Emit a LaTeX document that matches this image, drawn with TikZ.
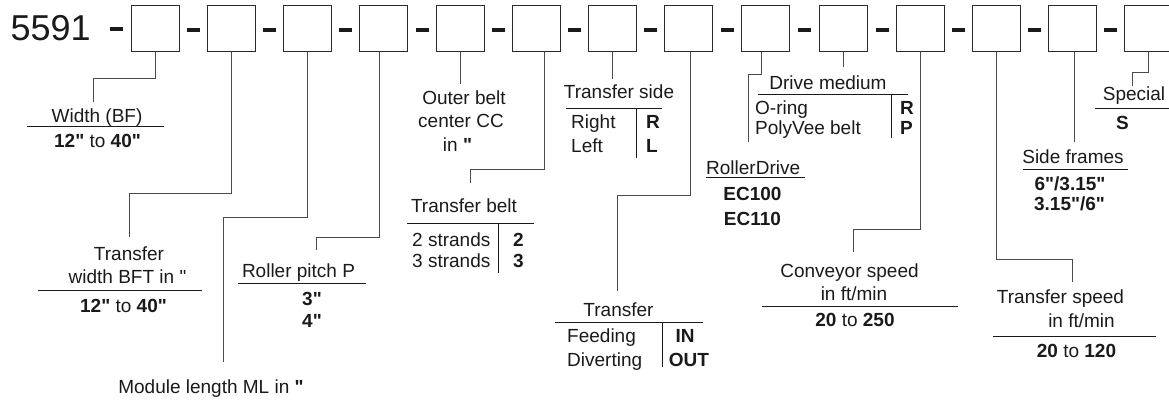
\documentclass[tikz,border=0pt]{standalone}
\usepackage{fontspec}
\newfontfamily\mainf{Liberation Sans}
\usetikzlibrary{calc}
\definecolor{txt}{HTML}{1A1A1A}
\definecolor{lc}{HTML}{4A4A4A}
\definecolor{bc}{HTML}{2A2A2A}
\begin{document}
\begin{tikzpicture}[x=1pt,y=-1pt,
  lbl/.style={font=\mainf\fontsize{19}{22}\selectfont, inner sep=0pt, anchor=base, text=txt},
  lblw/.style={lbl, anchor=base west},
  big/.style={font=\mainf\fontsize{36}{40}\selectfont, inner sep=0pt, anchor=base west, text=txt},
  conn/.style={draw=lc, line width=1pt},
  rulel/.style={draw=txt, line width=1pt},
  box/.style={draw=bc, line width=1.3pt, minimum width=48pt, minimum height=46pt, inner sep=0pt, anchor=north west},
  dashbar/.style={fill=txt, minimum width=13pt, minimum height=4pt, inner sep=0pt}]
\useasboundingbox (0,0) rectangle (1169,400);

% code number and boxes
\node[big] (code) at (10.5,40) {5591};
\foreach \i/\x in {1/131,2/207,3/283,4/359,5/436,6/512,7/588,8/664,9/741,10/819,11/896,12/972,13/1048,14/1124}
  \node[box] (b\i) at (\x,5) {};
\node[dashbar] (d1) at (116,29.25) {};
\foreach \i [evaluate=\i as \j using int(\i+1)] in {1,...,13}
  \node[dashbar] (d\j) at ($(b\i.east)!0.5!(b\j.west)+(0,1.25)$) {};

% A: Width
\node[lbl] (wA) at (97,122.5) {Width (BF)};
\draw[rulel] (27,126) -- (164,126);
\node[lbl] (wAv) at (97.5,147) {\textbf{12"} to \textbf{40"}};
\draw[conn] (b1.south) -- ++(0,26) -| (93,102) coordinate (eA);

% B: Transfer width
\node[lbl] (tB1) at (129,260) {Transfer};
\node[lbl] (tB2) at (127.5,283) {width BFT in "};
\draw[rulel] (38,290) -- (202,290);
\node[lbl] (tBv) at (123.5,312) {\textbf{12"} to \textbf{40"}};
\draw[conn] (b2.south) -- ++(0,141) -| (129,237) coordinate (eB);

% C: Module length
\node[lbl] (mC) at (211,393) {Module length ML in \textbf{"}};
\draw[conn] (b3.south) -- ++(0,165) -| (223,362) coordinate (eC);

% D: Roller pitch
\node[lbl] (rD) at (298.5,277) {Roller pitch P};
\draw[rulel] (238,283.5) -- (366,283.5);
\node[lbl] (rD1) at (312,305) {\textbf{3"}};
\node[lbl] (rD2) at (312,327) {\textbf{4"}};
\draw[conn] ([xshift=-4.5pt]b4.south) -- ++(0,185) -| (316,250) coordinate (eD);

% E: Outer belt center
\node[lbl] (oE1) at (464,104) {Outer belt};
\node[lbl] (oE2) at (461,127.3) {center CC};
\node[lbl] (oE3) at (457.5,151.5) {in \textbf{"}};
\draw[conn] (b5.south) -- ++(0,32) coordinate (eE);

% F: Transfer belt
\node[lbl] (fF) at (464,212) {Transfer belt};
\draw[rulel] (407,223) -- (534,223);
\node[lblw] (fF1) at (412,246) {2 strands};
\node[lblw] (fF2) at (412,267) {3 strands};
\draw[rulel] (498,223) -- (498,273);
\node[lblw] (fF1v) at (513,246) {\textbf{2}};
\node[lblw] (fF2v) at (513,267) {\textbf{3}};
\draw[conn] ([xshift=8pt]b6.south) -- ++(0,117) -| (470,183) coordinate (eF);

% G: Transfer side
\node[lbl] (sG) at (619,98.5) {Transfer side};
\draw[rulel] (566,108) -- (662,108);
\node[lblw] (sG1) at (571,128) {Right};
\node[lblw] (sG2) at (571,152) {Left};
\draw[rulel] (636,108) -- (636,158);
\node[lblw] (sG1v) at (646,128) {\textbf{R}};
\node[lblw] (sG2v) at (646,152) {\textbf{L}};
\draw[conn] (b7.south) -- ++(0,27) coordinate (eG);

% H: Transfer
\node[lbl] (tH) at (618.5,316) {Transfer};
\draw[rulel] (555,322) -- (703,322);
\node[lblw] (tH1) at (567,342) {Feeding};
\node[lblw] (tH2) at (567,366) {Diverting};
\draw[rulel] (662,322) -- (662,367);
\node[lbl] (tH1v) at (685,342) {\textbf{IN}};
\node[lbl] (tH2v) at (689,366) {\textbf{OUT}};
\draw[conn] ([xshift=1.5pt]b8.south) -- ++(0,143) -| (617,291) coordinate (eH);

% I: RollerDrive
\node[lblw] (rI) at (706,174) {RollerDrive};
\draw[rulel] (706,177.5) -- (805,177.5);
\node[lbl] (rI1) at (752.5,200) {\textbf{EC100}};
\node[lbl] (rI2) at (752.5,225) {\textbf{EC110}};
\draw[conn] ([xshift=-4pt]b9.south) -- ++(0,22) -| (748,142) coordinate (eI);

% J: Drive medium
\node[lbl] (dJ) at (828,89) {Drive medium};
\draw[rulel] (758,94) -- (908,94);
\node[lblw] (dJ1) at (755,114) {O-ring};
\node[lblw] (dJ2) at (755,134) {PolyVee belt};
\draw[rulel] (891,94) -- (891,138);
\node[lblw] (dJ1v) at (900,114) {\textbf{R}};
\node[lblw] (dJ2v) at (900,134) {\textbf{P}};
\draw[conn] (b10.south) -- ++(0,15) coordinate (eJ);

% K: Conveyor speed
\node[lbl] (cK1) at (849.5,277.5) {Conveyor speed};
\node[lbl] (cK2) at (854,300) {in ft/min};
\draw[rulel] (762,306) -- (958,306);
\node[lbl] (cKv) at (855,326) {\textbf{20} to \textbf{250}};
\draw[conn] (b11.south) -- ++(0,177) -| (853,252) coordinate (eK);

% L: Transfer speed
\node[lbl] (tL1) at (1060.5,303) {Transfer speed};
\node[lbl] (tL2) at (1081.5,327) {in ft/min};
\draw[rulel] (993,336) -- (1156,336);
\node[lbl] (tLv) at (1076.5,357) {\textbf{20} to \textbf{120}};
\draw[conn] (b12.south) -- ++(0,207) -| (1072,282) coordinate (eL);

% M: Side frames
\node[lbl] (sM) at (1073,163) {Side frames};
\draw[rulel] (1023,169) -- (1128,169);
\node[lbl] (sM1) at (1070,190) {\textbf{6"/3.15"}};
\node[lbl] (sM2) at (1069.5,210) {\textbf{3.15"/6"}};
\draw[conn] ([xshift=2pt]b13.south) -- ++(0,90) coordinate (eM);

% N: Special
\node[lbl] (sN) at (1134,100) {Special};
\draw[rulel] (1095,108) -- (1172,108);
\node[lbl] (sNv) at (1122.5,129) {\textbf{S}};
\draw[conn] (b14.south) -- ++(0,20) -| (1132,86) coordinate (eN);
\end{tikzpicture}
\end{document}
